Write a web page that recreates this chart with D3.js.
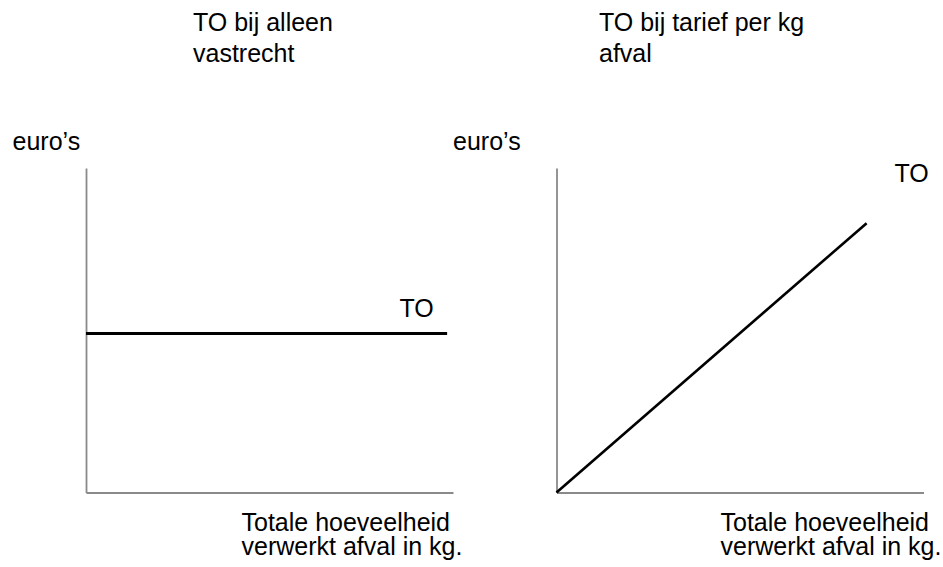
<!DOCTYPE html>
<html>
<head>
<meta charset="utf-8">
<script src="https://cdn.jsdelivr.net/npm/d3@7"></script>
<style>
  html, body { margin: 0; padding: 0; background: #fff; }
  svg text { font-family: "Liberation Sans", Arial, sans-serif; font-size: 25px; fill: #000; }
</style>
</head>
<body>
<svg id="chart" width="943" height="567"></svg>
<script>
// ---- data ----
const panelTitles = [["TO bij alleen", "vastrecht"], ["TO bij tarief per kg", "afval"]];
const yAxisLabel = "euro\u2019s";
const xAxisLabel = ["Totale hoeveelheid", "verwerkt afval in kg."];
const seriesName = "TO";
// left panel: fixed charge only (constant total revenue)
const fixedQty = [0, 98.4];
const fixedTO = [49, 49];
// right panel: tariff per kg (proportional total revenue)
const perKgQty = [0, 84.5];
const perKgTO = [0, 83];

const svg = d3.select("#chart");

const panels = [
  { x0: 86, title: panelTitles[0], titleX: 193, ylabX: 12.5, xlabX: 241.5, qty: fixedQty, to: fixedTO, width: 3.2, toLabel: [399.5, 316.5] },
  { x0: 556.5, title: panelTitles[1], titleX: 599, ylabX: 453, xlabX: 720.5, qty: perKgQty, to: perKgTO, width: 2.6, toLabel: [894.5, 181.5] }
];

const yBottom = 492.5, yTop = 168, plotW = 367;

panels.forEach(p => {
  const x = d3.scaleLinear().domain([0, 100]).range([p.x0, p.x0 + plotW]);
  const y = d3.scaleLinear().domain([0, 100]).range([yBottom, yTop]);
  const g = svg.append("g");

  // axes (no ticks)
  const xAxis = g.append("g").attr("transform", `translate(0,${yBottom})`)
    .call(d3.axisBottom(x).ticks(0).tickSizeOuter(0));
  const yAxis = g.append("g").attr("transform", `translate(${p.x0},0)`)
    .call(d3.axisLeft(y).ticks(0).tickSizeOuter(0));
  [xAxis, yAxis].forEach(a => a.select(".domain").attr("stroke", "#8a8a8a").attr("stroke-width", 1.8));

  // TO line
  const pts = p.qty.map((q, i) => [q, p.to[i]]);
  g.append("path").datum(pts)
    .attr("fill", "none").attr("stroke", "#000").attr("stroke-width", p.width)
    .attr("d", d3.line().x(d => x(d[0])).y(d => y(d[1])));

  // TO label
  g.append("text").attr("x", p.toLabel[0]).attr("y", p.toLabel[1]).text(seriesName);

  // titles
  p.title.forEach((t, i) => {
    g.append("text").attr("x", p.titleX).attr("y", 30.5 + i * 31.5).text(t);
  });

  // y-axis label
  g.append("text").attr("x", p.ylabX).attr("y", 149.5).text(yAxisLabel);

  // x-axis label
  xAxisLabel.forEach((t, i) => {
    g.append("text").attr("x", p.xlabX).attr("y", 531 + i * 24).text(t);
  });
});
</script>
</body>
</html>
